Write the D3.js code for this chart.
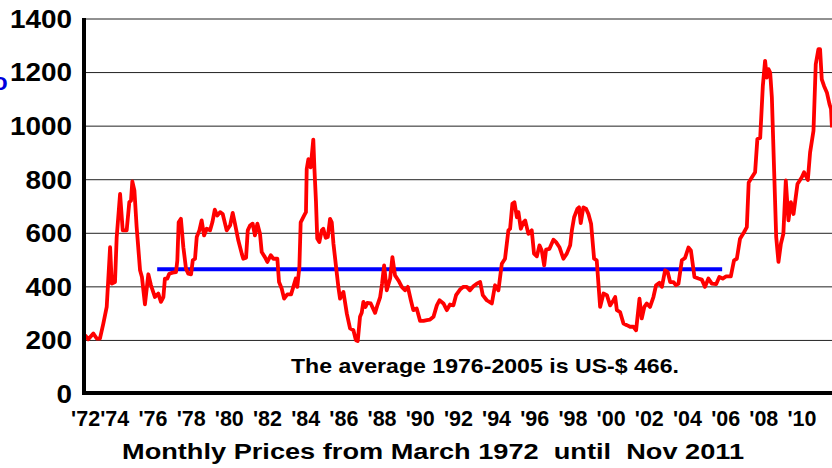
<!DOCTYPE html>
<html>
<head>
<meta charset="utf-8">
<script src="https://cdn.jsdelivr.net/npm/d3@7"></script>
<style>
  body { margin: 0; background: #fff; }
  text { font-family: "Liberation Sans", Arial, sans-serif; font-weight: bold; }
</style>
</head>
<body>
<div id="chart"></div>
<script>
// monthly price (decimal year, US-$)
var years = [1972.17, 1972.34, 1972.61, 1972.79, 1972.96, 1973.14, 1973.32, 1973.50, 1973.59, 1973.76,
  1973.85, 1974.03, 1974.17, 1974.38, 1974.52, 1974.61, 1974.68, 1974.79, 1974.91, 1975.09,
  1975.19, 1975.35, 1975.53, 1975.67, 1975.88, 1976.06, 1976.20, 1976.33, 1976.41, 1976.54,
  1976.64, 1976.82, 1977.00, 1977.07, 1977.14, 1977.26, 1977.39, 1977.53, 1977.65, 1977.80,
  1977.89, 1978.01, 1978.10, 1978.24, 1978.36, 1978.49, 1978.63, 1978.81, 1978.93, 1979.06,
  1979.19, 1979.34, 1979.48, 1979.69, 1979.87, 1980.01, 1980.13, 1980.31, 1980.49, 1980.57,
  1980.72, 1980.81, 1980.93, 1981.07, 1981.19, 1981.32, 1981.46, 1981.55, 1981.72, 1981.85,
  1982.03, 1982.17, 1982.38, 1982.47, 1982.61, 1982.74, 1982.91, 1983.11, 1983.23, 1983.36,
  1983.44, 1983.55, 1983.62, 1983.80, 1983.90, 1983.94, 1984.03, 1984.15, 1984.29, 1984.35,
  1984.43, 1984.50, 1984.61, 1984.74, 1984.82, 1984.95, 1985.06, 1985.18, 1985.27, 1985.36,
  1985.50, 1985.62, 1985.71, 1985.89, 1986.07, 1986.24, 1986.42, 1986.55, 1986.65, 1986.77,
  1986.86, 1986.95, 1987.06, 1987.16, 1987.34, 1987.57, 1987.71, 1987.84, 1987.94, 1988.05,
  1988.19, 1988.37, 1988.49, 1988.63, 1988.81, 1988.99, 1989.16, 1989.31, 1989.47, 1989.60,
  1989.78, 1989.96, 1990.14, 1990.32, 1990.49, 1990.67, 1990.85, 1990.99, 1991.20, 1991.38,
  1991.55, 1991.73, 1991.87, 1992.08, 1992.26, 1992.44, 1992.61, 1992.79, 1992.97, 1993.15,
  1993.29, 1993.50, 1993.77, 1993.94, 1994.12, 1994.30, 1994.47, 1994.65, 1994.74, 1994.86,
  1994.97, 1995.10, 1995.18, 1995.31, 1995.45, 1995.54, 1995.71, 1995.89, 1996.01, 1996.16,
  1996.30, 1996.42, 1996.55, 1996.65, 1996.83, 1997.04, 1997.18, 1997.36, 1997.57, 1997.75,
  1997.93, 1998.02, 1998.14, 1998.31, 1998.40, 1998.49, 1998.63, 1998.78, 1998.90, 1999.04,
  1999.20, 1999.34, 1999.52, 1999.70, 1999.88, 2000.05, 2000.23, 2000.32, 2000.41, 2000.58,
  2000.76, 2000.94, 2001.11, 2001.29, 2001.43, 2001.61, 2001.73, 2001.87, 2002.00, 2002.17,
  2002.35, 2002.49, 2002.67, 2002.80, 2002.97, 2003.11, 2003.24, 2003.41, 2003.55, 2003.68,
  2003.86, 2004.03, 2004.21, 2004.34, 2004.53, 2004.74, 2004.92, 2005.09, 2005.27, 2005.45,
  2005.68, 2005.85, 2006.03, 2006.21, 2006.46, 2006.63, 2006.78, 2006.95, 2007.16, 2007.31,
  2007.41, 2007.58, 2007.75, 2007.87, 2008.02, 2008.16, 2008.28, 2008.37, 2008.46, 2008.55,
  2008.64, 2008.76, 2008.87, 2008.99, 2009.12, 2009.25, 2009.38, 2009.52, 2009.65, 2009.79,
  2010.00, 2010.23, 2010.35, 2010.55, 2010.67, 2010.85, 2010.97, 2011.11, 2011.20, 2011.29,
  2011.41, 2011.56, 2011.70, 2011.78, 2011.83];
var prices = [220, 204, 226, 207, 207, 263, 325, 548, 412, 418,
  586, 747, 611, 611, 716, 722, 794, 760, 623, 462,
  437, 335, 447, 406, 362, 375, 344, 362, 431, 431,
  449, 453, 455, 499, 641, 654, 548, 468, 449, 447,
  499, 505, 586, 611, 648, 592, 617, 611, 641, 688,
  666, 679, 672, 611, 629, 676, 636, 573, 524, 505,
  509, 611, 629, 636, 592, 636, 598, 530, 511, 493,
  518, 505, 505, 418, 394, 356, 372, 372, 400, 431,
  400, 474, 641, 666, 679, 840, 877, 846, 950, 840,
  722, 580, 567, 611, 617, 583, 586, 654, 641, 561,
  474, 400, 356, 381, 300, 245, 238, 201, 198, 288,
  303, 344, 325, 340, 338, 303, 335, 362, 412, 480,
  387, 431, 511, 443, 424, 400, 387, 400, 350, 313,
  319, 273, 273, 276, 278, 288, 331, 350, 338, 313,
  334, 331, 369, 390, 400, 400, 387, 402, 412, 418,
  369, 350, 338, 406, 387, 486, 505, 611, 617, 710,
  716, 660, 679, 617, 641, 648, 598, 611, 524, 514,
  555, 536, 480, 539, 542, 576, 567, 548, 505, 524,
  555, 611, 660, 691, 697, 638, 697, 691, 672, 636,
  505, 499, 325, 375, 369, 331, 350, 362, 313, 306,
  263, 257, 251, 251, 238, 356, 282, 325, 338, 325,
  362, 406, 415, 400, 462, 455, 418, 418, 406, 412,
  499, 508, 547, 536, 437, 431, 427, 400, 431, 412,
  410, 437, 431, 439, 439, 499, 505, 580, 604, 623,
  790, 809, 828, 952, 956, 1150, 1244, 1181, 1213, 1200,
  1107, 834, 586, 493, 561, 598, 797, 648, 716, 672,
  784, 809, 828, 799, 902, 983, 1231, 1287, 1287, 1175,
  1150, 1126, 1082, 1064, 995];

var yTicks = [0, 200, 400, 600, 800, 1000, 1200, 1400];
var xLabels = ["'72", "'74", "'76", "'78", "'80", "'82", "'84", "'86", "'88", "'90",
  "'92", "'94", "'96", "'98", "'00", "'02", "'04", "'06", "'08", "'10"];
var average = 466;
var averageSpan = [1976.0, 2006.0];
var title = "Monthly Prices from March 1972  until  Nov 2011";
var note = "The average 1976-2005 is US-$ 466.";

var W = 832, H = 468;
var plotLeft = 85, plotTop = 19, plotBottom = 394;

var svg = d3.select("#chart").append("svg")
    .attr("width", W)
    .attr("height", H);

var x = d3.scaleLinear().domain([1972.167, 2011.833]).range([plotLeft, W]);
var y = d3.scaleLinear().domain([0, 1400]).range([plotBottom, plotTop]);

// gridlines
svg.append("g")
    .selectAll("line")
    .data(yTicks.slice(1))
    .enter().append("line")
    .attr("x1", plotLeft).attr("x2", W)
    .attr("y1", function(d) { return y(d); })
    .attr("y2", function(d) { return y(d); })
    .style("stroke", "#222")
    .style("stroke-width", 1);

// y tick labels
svg.append("g")
    .attr("transform", "translate(" + plotLeft + ",0)")
    .call(d3.axisLeft(y).tickValues(yTicks).tickFormat(d3.format("d")).tickSize(0).tickPadding(13))
    .call(function(g) { g.select(".domain").remove(); })
    .selectAll("text")
    .attr("textLength", function(d) { return String(d).length * 15.5; })
    .attr("lengthAdjust", "spacingAndGlyphs")
    .style("font-size", "26px")
    .style("font-family", "'Liberation Sans', Arial, sans-serif")
    .style("font-weight", "bold")
    .attr("fill", "#000");

// x labels
var xl = d3.scalePoint().domain(xLabels).range([76.6, 802]);
svg.append("g")
    .selectAll("text")
    .data(xLabels)
    .enter().append("text")
    .attr("x", function(d) { return xl(d); })
    .attr("dx", function(d, i) { return i === 0 ? 9 : 0; })
    .attr("y", 426)
    .attr("text-anchor", "middle")
    .attr("textLength", 29)
    .attr("lengthAdjust", "spacingAndGlyphs")
    .style("font-size", "22px")
    .text(function(d) { return d; });

// average line
svg.append("line")
    .attr("x1", x(averageSpan[0])).attr("x2", x(averageSpan[1]))
    .attr("y1", y(average)).attr("y2", y(average))
    .style("stroke", "#0000ff")
    .style("stroke-width", 4);

// price line
var line = d3.line()
    .x(function(d) { return x(d[0]); })
    .y(function(d) { return y(d[1]); });

svg.append("path")
    .datum(d3.zip(years, prices))
    .attr("d", line)
    .style("fill", "none")
    .style("stroke", "#ff0000")
    .style("stroke-width", 3.8)
    .style("stroke-linejoin", "round");

// axis lines
svg.append("line")
    .attr("x1", plotLeft - 1).attr("x2", plotLeft - 1)
    .attr("y1", plotTop - 1).attr("y2", plotBottom + 1)
    .style("stroke", "#000").style("stroke-width", 4);
svg.append("line")
    .attr("x1", plotLeft - 3).attr("x2", W)
    .attr("y1", plotBottom - 1).attr("y2", plotBottom - 1)
    .style("stroke", "#000").style("stroke-width", 4);

// note and title
svg.append("text")
    .attr("x", 291).attr("y", 373)
    .attr("textLength", 388)
    .attr("lengthAdjust", "spacingAndGlyphs")
    .style("font-size", "21px")
    .text(note);

svg.append("text")
    .attr("x", 122).attr("y", 459)
    .attr("textLength", 622)
    .attr("lengthAdjust", "spacingAndGlyphs")
    .style("font-size", "22px")
    .style("white-space", "pre")
    .text(title);

// cut off axis title at the left edge
svg.append("text")
    .attr("x", -7).attr("y", 90)
    .style("font-size", "24px")
    .attr("fill", "#0000dd")
    .text("o");
</script>
</body>
</html>
